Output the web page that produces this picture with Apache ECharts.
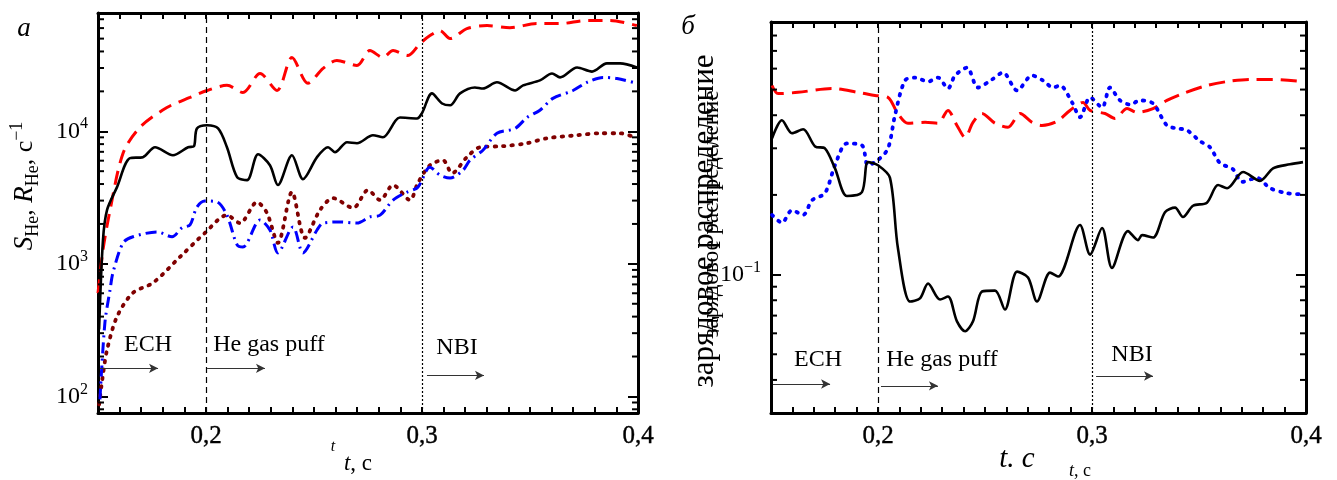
<!DOCTYPE html>
<html><head><meta charset="utf-8">
<script src="https://cdn.jsdelivr.net/npm/echarts@6/dist/echarts.min.js"></script>
<style>html,body{margin:0;padding:0;background:#fff}#c{width:1337px;height:480px}</style>
</head><body><div id="c"></div>
<script>
// ---------- DATA ----------
const tRange = [0.15, 0.4];
const yRangeA = [75, 78000];
const yRangeB = [0.03, 0.9];
const markTimes = [0.2, 0.3];            // He puff start / NBI start
const minorTicksA = [80, 90, 200, 300, 400, 500, 600, 700, 800, 900, 2000, 3000, 4000, 5000, 6000, 7000, 8000, 9000, 20000, 30000, 40000, 50000, 60000, 70000];
const minorTicksB = [0.04, 0.05, 0.06, 0.07, 0.08, 0.09, 0.2, 0.3, 0.4, 0.5, 0.6, 0.7, 0.8];

// panel a
const redA = [[0.1500,600],[0.1523,1270],[0.1556,2550],[0.1616,6840],[0.1694,10700],[0.1819,15100],[0.1926,18000],[0.2005,20300],[0.2097,22200],[0.2171,19600],[0.2250,27300],[0.2329,20300],[0.2398,36000],[0.2472,23000],[0.2542,29800],[0.2606,34200],[0.2699,31400],[0.2759,40600],[0.2819,36000],[0.2866,40600],[0.2935,37300],[0.2991,45900],[0.3037,52700],[0.3083,57500],[0.3130,50000],[0.3208,59500],[0.3301,62700],[0.3407,60500],[0.3532,64900],[0.3639,64900],[0.3764,68400],[0.3870,68400],[0.3995,62700]];
const blackA = [[0.1505,320],[0.1523,1510],[0.1542,2550],[0.1588,3790],[0.1648,6270],[0.1708,6380],[0.1764,7580],[0.1847,6600],[0.1917,7580],[0.1944,7700],[0.1958,10500],[0.2005,11100],[0.2056,10500],[0.2097,7580],[0.2144,4510],[0.2190,4280],[0.2241,6710],[0.2296,5550],[0.2333,3930],[0.2398,6600],[0.2449,4350],[0.2514,6380],[0.2565,7580],[0.2597,6950],[0.2653,8260],[0.2699,8130],[0.2773,9330],[0.2819,9010],[0.2898,12700],[0.2977,12500],[0.3000,13700],[0.3046,19300],[0.3093,16200],[0.3130,15700],[0.3176,19300],[0.3245,21400],[0.3282,21000],[0.3347,23400],[0.3431,20300],[0.3468,22200],[0.3546,24200],[0.3602,27300],[0.3639,25500],[0.3718,30300],[0.3787,28200],[0.3856,32500],[0.3917,32500],[0.3995,30300]];
const blueA = [[0.1509,95],[0.1532,360],[0.1556,640],[0.1569,855],[0.1616,1440],[0.1662,1600],[0.1773,1740],[0.1843,1600],[0.1889,1870],[0.1926,1970],[0.1958,2680],[0.1995,2980],[0.2051,2930],[0.2097,2330],[0.2144,1390],[0.2171,1340],[0.2250,2140],[0.2296,1800],[0.2333,1210],[0.2403,1900],[0.2449,1210],[0.2514,1800],[0.2542,2030],[0.2620,2070],[0.2699,2030],[0.2759,2260],[0.2806,2330],[0.2866,3030],[0.2931,3480],[0.2981,3790],[0.3037,5360],[0.3083,4670],[0.3130,4440],[0.3190,5090],[0.3222,6050],[0.3282,7200],[0.3347,9660],[0.3431,10500],[0.3486,12700],[0.3546,14400],[0.3606,17700],[0.3699,20300],[0.3764,23400],[0.3838,25500],[0.3903,25000],[0.3995,23000]];
const maroonA = [[0.1505,87],[0.1523,146],[0.1542,225],[0.1588,400],[0.1662,605],[0.1755,720],[0.1880,1130],[0.1995,1710],[0.2097,2330],[0.2157,2030],[0.2236,2920],[0.2282,2420],[0.2333,1440],[0.2398,3480],[0.2458,1570],[0.2528,2550],[0.2588,3130],[0.2681,2640],[0.2750,3600],[0.2806,3030],[0.2866,3930],[0.2944,3030],[0.2981,4070],[0.3037,5550],[0.3097,6050],[0.3139,4830],[0.3208,6380],[0.3269,7580],[0.3375,7720],[0.3486,8130],[0.3579,8860],[0.3718,9330],[0.3824,9660],[0.3917,9660],[0.3995,8860]];

// panel б
const redB = [[0.1505,0.518],[0.1533,0.483],[0.1626,0.488],[0.1785,0.505],[0.1907,0.488],[0.1986,0.475],[0.2047,0.467],[0.2093,0.406],[0.2140,0.373],[0.2220,0.376],[0.2280,0.373],[0.2327,0.417],[0.2369,0.366],[0.2407,0.330],[0.2444,0.376],[0.2486,0.406],[0.2547,0.373],[0.2607,0.360],[0.2664,0.406],[0.2720,0.376],[0.2766,0.366],[0.2836,0.379],[0.2897,0.417],[0.2958,0.447],[0.2991,0.417],[0.3061,0.406],[0.3107,0.389],[0.3164,0.424],[0.3210,0.410],[0.3285,0.424],[0.3350,0.455],[0.3425,0.483],[0.3537,0.518],[0.3631,0.536],[0.3738,0.546],[0.3846,0.546],[0.3986,0.536]];
const blueB = [[0.1505,0.168],[0.1551,0.157],[0.1598,0.175],[0.1650,0.168],[0.1692,0.191],[0.1752,0.203],[0.1799,0.259],[0.1855,0.313],[0.1925,0.308],[0.1953,0.259],[0.2000,0.271],[0.2047,0.300],[0.2079,0.399],[0.2126,0.541],[0.2173,0.555],[0.2234,0.536],[0.2280,0.555],[0.2327,0.505],[0.2360,0.565],[0.2416,0.605],[0.2467,0.509],[0.2533,0.546],[0.2584,0.580],[0.2650,0.496],[0.2720,0.565],[0.2771,0.541],[0.2818,0.509],[0.2850,0.518],[0.2907,0.447],[0.2944,0.393],[0.2991,0.467],[0.3047,0.428],[0.3084,0.509],[0.3131,0.455],[0.3178,0.439],[0.3224,0.455],[0.3285,0.443],[0.3350,0.366],[0.3397,0.357],[0.3444,0.351],[0.3505,0.319],[0.3551,0.303],[0.3598,0.264],[0.3659,0.250],[0.3701,0.224],[0.3771,0.232],[0.3832,0.212],[0.3911,0.203],[0.3986,0.201]];
const blackB = [[0.1505,0.327],[0.1551,0.383],[0.1598,0.342],[0.1650,0.354],[0.1706,0.305],[0.1752,0.300],[0.1799,0.252],[0.1855,0.198],[0.1925,0.205],[0.1953,0.266],[0.2000,0.259],[0.2056,0.232],[0.2093,0.126],[0.2150,0.0791],[0.2196,0.0813],[0.2234,0.0925],[0.2290,0.0805],[0.2327,0.0826],[0.2369,0.0666],[0.2407,0.0611],[0.2444,0.0666],[0.2486,0.0863],[0.2547,0.087],[0.2593,0.0738],[0.2650,0.1026],[0.2701,0.0975],[0.2743,0.0791],[0.2804,0.1017],[0.2841,0.0983],[0.2944,0.154],[0.2991,0.119],[0.3047,0.150],[0.3093,0.106],[0.3168,0.146],[0.3215,0.135],[0.3234,0.141],[0.3285,0.138],[0.3341,0.172],[0.3388,0.179],[0.3425,0.165],[0.3472,0.182],[0.3537,0.187],[0.3589,0.218],[0.3631,0.212],[0.3706,0.244],[0.3785,0.226],[0.3846,0.252],[0.3925,0.261],[0.3986,0.266]];

// annotation arrows: [tStart, tEnd, yValue]
const arrowsA = [[0.1509, 0.1778, 163], [0.2005, 0.2273, 163], [0.3023, 0.3287, 144]];
const arrowsB = [[0.1509, 0.1776, 0.0386], [0.2014, 0.2280, 0.0380], [0.3019, 0.3285, 0.0414]];

// ---------- CHART ----------
const FONT = 'Liberation Serif';
const chart = echarts.init(document.getElementById('c'), null, {renderer: 'canvas'});

function xLabel(v) {
  const k = Math.round(v * 100);
  if (k % 10 !== 0 || k === 10) return '';
  return (k / 100).toFixed(1).replace('.', ',');
}
function yLabel(v) {
  const l = Math.log10(v), e = Math.round(l);
  if (Math.abs(l - e) > 1e-6) return '';
  return '{b|10}{s|' + (e < 0 ? '\u2212' + (-e) : e) + '}';
}
const yRich = {
  b: {fontFamily: FONT, fontSize: 24, color: '#000', lineHeight: 30},
  s: {fontFamily: FONT, fontSize: 16, color: '#000', lineHeight: 16, verticalAlign: 'top'}
};

function xAxes(gi) {
  const common = {
    type: 'value', gridIndex: gi, min: tRange[0], max: tRange[1], interval: 0.01,
    axisLine: {show: true, lineStyle: {color: '#000', width: 3}},
    axisTick: {show: true, inside: true, length: 6, lineStyle: {color: '#000', width: 2}},
    splitLine: {show: false}
  };
  return [
    Object.assign({}, common, {position: 'bottom',
      axisLabel: {show: true, formatter: xLabel, fontFamily: FONT, fontSize: 25, color: '#000', margin: 11, showMinLabel: false,
        textBorderColor: '#000', textBorderWidth: 0.4}}),
    Object.assign({}, common, {position: 'top', axisLabel: {show: false}})
  ];
}
function yAxes(gi, range) {
  const common = {
    type: 'log', logBase: 10, gridIndex: gi, min: range[0], max: range[1],
    axisLine: {show: true, lineStyle: {color: '#000', width: 3}},
    axisTick: {show: true, inside: true, length: 10, lineStyle: {color: '#000', width: 2}},
    splitLine: {show: false}, minorTick: {show: false}
  };
  return [
    Object.assign({}, common, {position: 'left',
      axisLabel: {show: true, formatter: yLabel, rich: yRich, margin: 10, showMinLabel: false, showMaxLabel: false}}),
    Object.assign({}, common, {position: 'right', axisLabel: {show: false}})
  ];
}

function lineSeries(gi, data, color, width, dash, cap, extra) {
  return Object.assign({
    type: 'line', xAxisIndex: gi * 2, yAxisIndex: gi * 2, data: data,
    showSymbol: false, symbol: 'none', smooth: 0.3, silent: true, animation: false,
    lineStyle: {color: color, width: width, type: dash, cap: cap || 'butt'}, z: 3
  }, extra || {});
}

function markLines(arrows) {
  const vlines = [
    {xAxis: markTimes[0], lineStyle: {type: [6, 4], width: 1.2, color: '#000'}},
    {xAxis: markTimes[1], lineStyle: {type: [2, 2], width: 1.2, color: '#000'}}
  ];
  const arr = arrows.map(a => [
    {coord: [a[0], a[2]], symbol: 'none'},
    {coord: [a[1], a[2]], symbol: 'arrow'}
  ]);
  return {
    silent: true, animation: false, symbol: ['none', 'none'], symbolSize: [7, 9],
    label: {show: false}, emphasis: {disabled: true},
    lineStyle: {color: '#333', width: 1.2, type: 'solid'},
    data: vlines.concat(arr)
  };
}

function minorTickSeries(gi, ticks) {
  return {
    type: 'custom', xAxisIndex: gi * 2, yAxisIndex: gi * 2, silent: true, animation: false, z: 5,
    data: ticks.map(v => [tRange[0], v]),
    renderItem: function (params, api) {
      const v = api.value(1);
      const a = api.coord([tRange[0], v]), b = api.coord([tRange[1], v]);
      return {type: 'group', children: [
        {type: 'line', shape: {x1: a[0], y1: a[1], x2: a[0] + 6, y2: a[1]}, style: {stroke: '#000', lineWidth: 2}},
        {type: 'line', shape: {x1: b[0], y1: b[1], x2: b[0] - 6, y2: b[1]}, style: {stroke: '#000', lineWidth: 2}}
      ]};
    }
  };
}

function T(x, y, text, size, italic, extra) {
  return Object.assign({type: 'text', x: x, y: y, silent: true, z: 10,
    style: {text: text, fontFamily: FONT, fontSize: size, fontStyle: italic ? 'italic' : 'normal',
      fill: '#000', align: 'center', verticalAlign: 'middle'}}, extra || {});
}
const tok = (size, italic) => ({fontFamily: FONT, fontSize: size, fontStyle: italic ? 'italic' : 'normal', color: '#000'});

const graphics = [
  T(24, 29, 'a', 27, true),
  T(688, 27, 'б', 27, true),
  // y title panel a
  {type: 'text', x: 25, y: 186, rotation: Math.PI / 2, silent: true, z: 10,
   style: {text: '{i|S}{sub|He}{n|, }{i|R}{sub|He}{n|, с}{sup|\u22121}', align: 'center', verticalAlign: 'middle',
     rich: {
       i: Object.assign(tok(27, true), {lineHeight: 34}),
       n: Object.assign(tok(26, false), {lineHeight: 34}),
       sub: Object.assign(tok(18, false), {lineHeight: 17, verticalAlign: 'bottom'}),
       sup: Object.assign(tok(18, false), {lineHeight: 17, verticalAlign: 'top'})
     }}},
  // y titles panel б (overlapping pair, as in the original)
  T(705, 221, 'зарядовое распределение', 31, false, {rotation: Math.PI / 2}),
  T(712, 214, 'зарядовое распределение', 23, false, {rotation: Math.PI / 2}),
  // x titles
  T(333, 447, 't', 16, true),
  {type: 'text', x: 358, y: 464, silent: true, z: 10, style: {text: '{i|t}{n|, с}', align: 'center', verticalAlign: 'middle',
     rich: {i: tok(23, true), n: tok(23, false)}}},
  T(1017, 459, 't. c', 29, true),
  {type: 'text', x: 1080, y: 471, silent: true, z: 10, style: {text: '{i|t}{n|, с}', align: 'center', verticalAlign: 'middle',
     rich: {i: tok(18, true), n: tok(18, false)}}},
  // annotations panel a
  T(148, 345, 'ECH', 24),
  T(269, 345, 'He gas puff', 24),
  T(457, 348, 'NBI', 24),
  // annotations panel б
  T(818, 360, 'ECH', 24),
  T(942, 360, 'He gas puff', 24),
  T(1132, 355, 'NBI', 24)
];

const option = {
  backgroundColor: '#fff',
  animation: false,
  grid: [
    {left: 98, top: 13, width: 540, height: 400, containLabel: false},
    {left: 771, top: 22, width: 535, height: 391, containLabel: false}
  ],
  xAxis: xAxes(0).concat(xAxes(1)),
  yAxis: yAxes(0, yRangeA).concat(yAxes(1, yRangeB)),
  graphic: graphics,
  series: [
    lineSeries(0, redA, '#ff0000', 3, [14, 8]),
    lineSeries(0, maroonA, '#800000', 3.8, [1.5, 7], 'round'),
    lineSeries(0, blueA, '#0000ff', 3, [11, 5, 2, 5]),
    lineSeries(0, blackA, '#000000', 2.6, 'solid', 'butt', {markLine: markLines(arrowsA)}),
    minorTickSeries(0, minorTicksA),
    lineSeries(1, redB, '#ff0000', 3, [16, 8]),
    lineSeries(1, blueB, '#0000ff', 3.8, [1.5, 7], 'round'),
    lineSeries(1, blackB, '#000000', 2.6, 'solid', 'butt', {markLine: markLines(arrowsB)}),
    minorTickSeries(1, minorTicksB)
  ]
};
chart.setOption(option);
</script>
</body></html>
